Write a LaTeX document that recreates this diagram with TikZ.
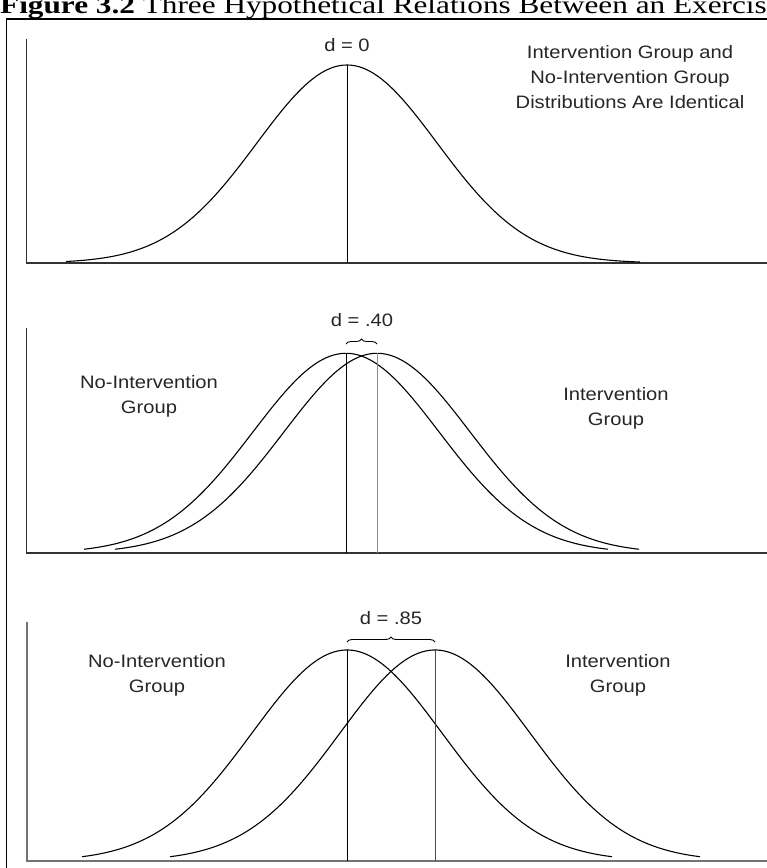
\documentclass[tikz,border=0pt]{standalone}
\usepackage{fontspec}
\setmainfont{Liberation Sans}[FakeStretch=1.12]
\newfontfamily\titlefont{Liberation Serif}[FakeStretch=1.25]
\usetikzlibrary{decorations.pathreplacing}
\begin{document}
\begin{tikzpicture}[x=1pt,y=-1pt,
  curve/.style={line width=1.1pt, black},
  axisline/.style={line width=1.3pt, black!80},
  peakline/.style={line width=1pt, black},
  peakgray/.style={line width=1pt, black!45},
  lbl/.style={font=\fontsize{18}{25}\selectfont, align=center, text=black!85, inner sep=0pt},
  bracestyle/.style={decorate, decoration={brace, amplitude=5pt}, line width=0.9pt},
  frameline/.style={line width=1.5pt, black}]
\useasboundingbox (0,0) rectangle (767,868);
\begin{scope}
\clip (0,0) rectangle (767,868);
% title (cut off at the top and right edge, as in the reference)
\node[anchor=base west, inner sep=0pt, font=\titlefont\fontsize{25}{25}\selectfont] (title) at (0,13) {\textbf{Figure 3.2} Three Hypothetical Relations Between an Exercise};
% frame
\coordinate (fr1) at (767,19);
\coordinate (fr2) at (6.5,19);
\coordinate (fr3) at (6.5,868);
\draw[frameline] (fr1) -- (fr2) -- (fr3);

% ---------- top panel ----------
\coordinate (a1top) at (26.7,39);
\coordinate (a1o) at (26.7,263);
\coordinate (a1end) at (767,263);
\draw[axisline] (a1top) -- (a1o) -- (a1end);
\draw[curve] plot[domain=-281:293, samples=150] ({347+\x}, {263-198*exp(-0.5*((\x)/90)*((\x)/90))});
\coordinate (p1) at (347,65);
\coordinate (p1b) at (347,263);
\draw[peakline] (p1) -- (p1b);
\node[lbl] (d0) at (347,45) {d = 0};
\node[lbl] (ident) at (630,77) {Intervention Group and\\No-Intervention Group\\Distributions Are Identical};

% ---------- middle panel ----------
\coordinate (a2top) at (26.7,328);
\coordinate (a2o) at (26.7,553);
\coordinate (a2end) at (767,553);
\draw[axisline] (a2top) -- (a2o) -- (a2end);
\draw[curve] plot[domain=-262:262, samples=150] ({346+\x}, {553-199.7*exp(-0.5*((\x)/93)*((\x)/93))});
\draw[curve] plot[domain=-262:262, samples=150] ({377+\x}, {553-199.7*exp(-0.5*((\x)/93)*((\x)/93))});
\coordinate (p2a) at (346,353.3);
\coordinate (p2ab) at (346,553);
\coordinate (p2b) at (377,353.3);
\coordinate (p2bb) at (377,553);
\draw[peakline] (p2a) -- (p2ab);
\draw[peakgray] (p2b) -- (p2bb);
\coordinate (br2a) at (346,344);
\coordinate (br2b) at (377,344);
\draw[bracestyle] (br2a) -- (br2b);
\node[lbl] (d40) at (362,320) {d = .40};
\node[lbl] (noint2) at (149,396.5) {No-Intervention\\Group};
\node[lbl] (int2) at (616,408) {Intervention\\Group};

% ---------- bottom panel ----------
\coordinate (a3top) at (26.7,622);
\coordinate (a3o) at (26.7,861);
\coordinate (a3end) at (767,861);
\draw[axisline, black!55, line width=1.6pt] (a3top) -- (a3o) -- (a3end);
\draw[curve] plot[domain=-265:265, samples=150] ({347+\x}, {861-211*exp(-0.5*((\x)/95)*((\x)/95))});
\draw[curve] plot[domain=-265:265, samples=150] ({435+\x}, {861-211*exp(-0.5*((\x)/95)*((\x)/95))});
\coordinate (p3a) at (347,650);
\coordinate (p3ab) at (347,861);
\coordinate (p3b) at (435,650);
\coordinate (p3bb) at (435,861);
\draw[peakline] (p3a) -- (p3ab);
\draw[peakline, black!70] (p3b) -- (p3bb);
\coordinate (br3a) at (347,642);
\coordinate (br3b) at (435,642);
\draw[bracestyle] (br3a) -- (br3b);
\node[lbl] (d85) at (391,618) {d = .85};
\node[lbl] (noint3) at (157,675) {No-Intervention\\Group};
\node[lbl] (int3) at (618,675) {Intervention\\Group};
\end{scope}
\end{tikzpicture}
\end{document}
